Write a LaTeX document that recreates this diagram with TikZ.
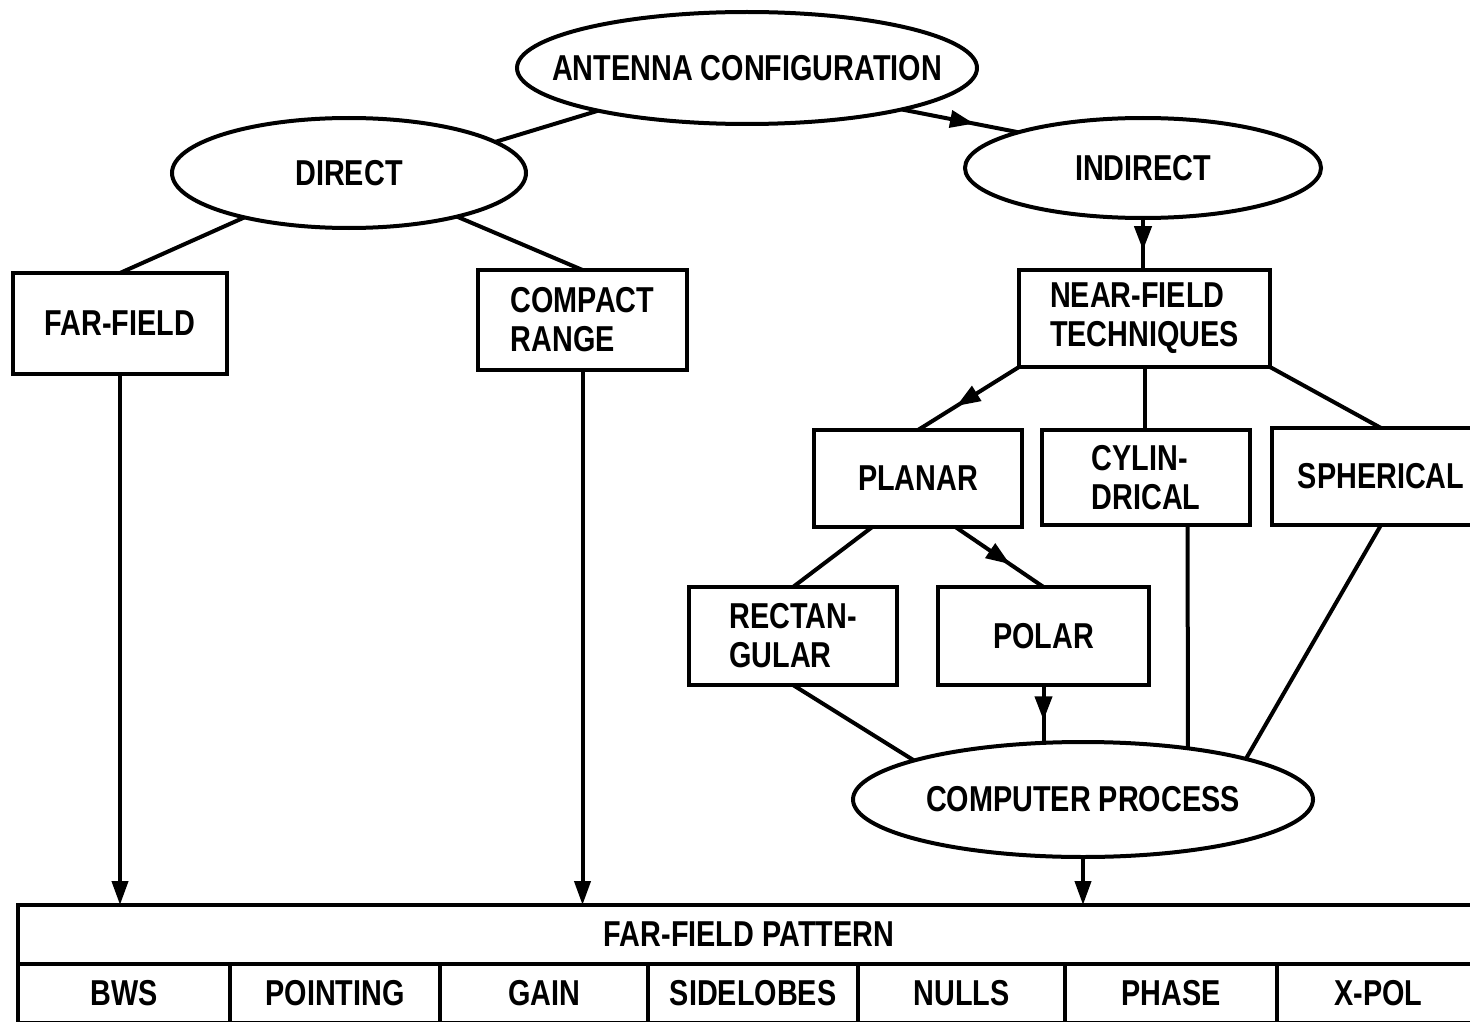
\documentclass[tikz,border=0pt]{standalone}
\usepackage{fontspec}
\setmainfont{Liberation Sans}[FakeStretch=0.8]
\usetikzlibrary{arrows.meta,decorations.markings,calc,shapes.geometric}
\begin{document}
\begin{tikzpicture}[x=1pt,y=-1pt,line width=4pt,
  every node/.style={font=\fontsize{36}{39}\selectfont\bfseries},
  boxnode/.style={draw,rectangle,inner sep=0pt,outer sep=0pt,align=left},
  ellnode/.style={draw,ellipse,inner sep=0pt,outer sep=0pt},
  endarrow/.style={-{Triangle[length=24pt,width=16pt]}},
  midarrow/.style={postaction={decorate},decoration={markings,
    mark=at position 0.62 with {\arrow{Triangle[length=24pt,width=17pt]}}}}]
\useasboundingbox (0,0) rectangle (1470,1022);
\clip (0,0) rectangle (1470,1022);
% ellipses
\node[ellnode,inner xsep=-36pt,minimum width=460pt,minimum height=112pt] (ant) at (747,68) {ANTENNA CONFIGURATION};
\node[ellnode,minimum width=354pt,minimum height=110pt] (dir) at (349,173) {DIRECT};
\node[ellnode,minimum width=356pt,minimum height=100pt] (ind) at (1143,168) {INDIRECT};
\node[ellnode,inner xsep=-30pt,minimum width=460pt,minimum height=115pt] (cp) at (1083,799.5) {COMPUTER PROCESS};
% boxes
\node[boxnode,minimum width=214pt,minimum height=101pt] (ff) at (120,323.5) {FAR-FIELD};
\node[boxnode,minimum width=209pt,minimum height=100pt] (cr) at (582.5,320) {COMPACT\\RANGE};
\node[boxnode,minimum width=251pt,minimum height=97pt] (nf) at (1144.5,318.5) {NEAR-FIELD\\TECHNIQUES};
\node[boxnode,minimum width=208pt,minimum height=97pt] (pl) at (918,478.5) {PLANAR};
\node[boxnode,minimum width=208pt,minimum height=95pt] (cy) at (1146,477.5) {CYLIN-\\DRICAL};
\node[boxnode,minimum width=218pt,minimum height=97pt] (sp) at (1381,476.5) {SPHERICAL};
\node[boxnode,minimum width=208pt,minimum height=98pt] (re) at (793,636) {RECTAN-\\GULAR};
\node[boxnode,minimum width=211pt,minimum height=98pt] (po) at (1043.5,636) {POLAR};
% table
\node[boxnode,minimum width=1462pt,minimum height=59pt] (pat) at (749,934.5) {FAR-FIELD PATTERN};
\node[boxnode,minimum width=212pt,minimum height=59pt] (c1) at (124,993.5) {BWS};
\node[boxnode,minimum width=210pt,minimum height=59pt] (c2) at (335,993.5) {POINTING};
\node[boxnode,minimum width=208pt,minimum height=59pt] (c3) at (544,993.5) {GAIN};
\node[boxnode,minimum width=210pt,minimum height=59pt] (c4) at (753,993.5) {SIDELOBES};
\node[boxnode,minimum width=207pt,minimum height=59pt] (c5) at (961.5,993.5) {NULLS};
\node[boxnode,minimum width=212pt,minimum height=59pt] (c6) at (1171,993.5) {PHASE};
\node[boxnode,minimum width=203pt,minimum height=59pt] (c7) at (1378.5,993.5) {X-POL};
% connectors
\draw (ant.196) -- (dir.12);
\draw[midarrow] (ant.-15) -- (ind.164);
\draw (dir.203) -- (ff.north);
\draw (dir.-22) -- (cr.north);
\draw[endarrow] (ff.south) -- (ff.south |- pat.north);
\draw[endarrow] (cr.south) -- (cr.south |- pat.north);
\draw[midarrow] (ind.south) -- (ind.south |- nf.north);
\draw[midarrow] (nf.south west) -- (pl.north);
\draw (nf.south) -- (nf.south |- cy.north);
\draw (nf.south east) -- (sp.north);
\draw ($(pl.south west)!0.28!(pl.south east)$) -- (re.north);
\draw[midarrow] ($(pl.south west)!0.68!(pl.south east)$) -- (po.north);
\draw (re.south) -- (cp.167);
\draw[midarrow] (po.south) -- (po.south |- cp.north);
\draw ($(cy.south west)!0.7!(cy.south east)$) -- (cp.26);
\draw (sp.south) -- (cp.14);
\draw[endarrow] (cp.south) -- (cp.south |- pat.north);
\end{tikzpicture}
\end{document}
